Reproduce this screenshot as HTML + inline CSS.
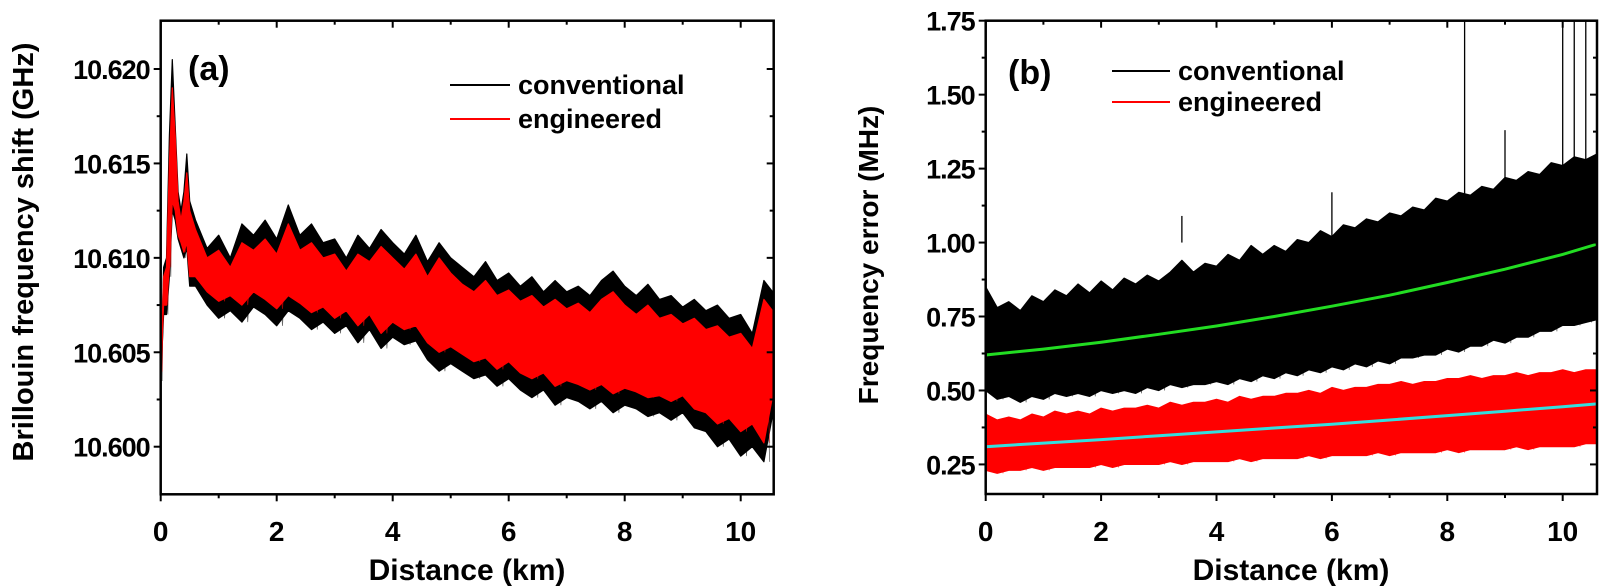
<!DOCTYPE html>
<html><head><meta charset="utf-8"><style>
html,body{margin:0;padding:0;background:#fff;}
svg{display:block;}
text{font-family:"Liberation Sans Narrow","Liberation Sans",sans-serif;font-weight:bold;fill:#000;}
</style></head><body>
<svg id="fig" width="1600" height="588" viewBox="0 0 1600 588"></svg>
<script>
// ---------- Panel (a) data ----------
const aPeakX = [0,0.05,0.1,0.15,0.2,0.25,0.3,0.35,0.4,0.45,0.5,0.6];
const aPeakBlackHi = [10.6035,10.6095,10.6100,10.6165,10.6205,10.6170,10.6135,10.6125,10.6135,10.6155,10.6130,10.6120];
const aPeakBlackLo = [10.6035,10.6070,10.6070,10.6090,10.6125,10.6120,10.6110,10.6105,10.6100,10.6105,10.6085,10.6085];
const aPeakRedHi = [10.6040,10.6090,10.6095,10.6150,10.6190,10.6165,10.6130,10.6120,10.6130,10.6145,10.6125,10.6115];
const aPeakRedLo = [10.6040,10.6075,10.6075,10.6095,10.6130,10.6125,10.6112,10.6108,10.6103,10.6108,10.6090,10.6090];
const aX = [0.8,1.0,1.2,1.4,1.6,1.8,2.0,2.2,2.4,2.6,2.8,3.0,3.2,3.4,3.6,3.8,4.0,4.2,4.4,4.6,4.8,5.0,5.2,5.4,5.6,5.8,6.0,6.2,6.4,6.6,6.8,7.0,7.2,7.4,7.6,7.8,8.0,8.2,8.4,8.6,8.8,9.0,9.2,9.4,9.6,9.8,10.0,10.2,10.4,10.6];
const aBlackHi = [10.6105,10.6112,10.6100,10.6118,10.6112,10.6120,10.6110,10.6128,10.6112,10.6118,10.6108,10.6110,10.6100,10.6112,10.6105,10.6115,10.6108,10.6102,10.6112,10.6098,10.6108,10.6100,10.6095,10.6090,10.6098,10.6088,10.6092,10.6085,10.6090,10.6082,10.6088,10.6082,10.6085,10.6080,10.6088,10.6093,10.6085,10.6080,10.6086,10.6078,10.6080,10.6074,10.6078,10.6072,10.6075,10.6068,10.6070,10.6060,10.6088,10.6080];
const aBlackLo = [10.6075,10.6068,10.6072,10.6066,10.6074,10.6070,10.6064,10.6072,10.6068,10.6062,10.6066,10.6060,10.6064,10.6055,10.6062,10.6052,10.6058,10.6054,10.6056,10.6046,10.6040,10.6044,10.6040,10.6036,10.6038,10.6032,10.6036,10.6030,10.6026,10.6030,10.6022,10.6026,10.6024,10.6020,10.6024,10.6018,10.6022,10.6020,10.6016,10.6018,10.6014,10.6018,10.6010,10.6008,10.6000,10.6004,10.5995,10.6000,10.5992,10.6025];
const aRedHi = [10.6100,10.6104,10.6095,10.6108,10.6104,10.6110,10.6102,10.6118,10.6104,10.6108,10.6100,10.6102,10.6093,10.6102,10.6098,10.6106,10.6100,10.6094,10.6102,10.6090,10.6100,10.6092,10.6086,10.6082,10.6088,10.6080,10.6083,10.6077,10.6080,10.6074,10.6078,10.6073,10.6076,10.6071,10.6078,10.6082,10.6075,10.6070,10.6075,10.6068,10.6070,10.6065,10.6068,10.6062,10.6064,10.6058,10.6060,10.6052,10.6078,10.6070];
const aRedLo = [10.6082,10.6077,10.6080,10.6075,10.6082,10.6078,10.6073,10.6080,10.6076,10.6071,10.6074,10.6068,10.6072,10.6064,10.6070,10.6060,10.6066,10.6062,10.6064,10.6055,10.6050,10.6053,10.6049,10.6045,10.6047,10.6041,10.6045,10.6039,10.6036,10.6039,10.6032,10.6035,10.6033,10.6030,10.6033,10.6028,10.6031,10.6029,10.6026,10.6027,10.6024,10.6027,10.6020,10.6018,10.6012,10.6015,10.6008,10.6012,10.6002,10.6035];
const aXTicks = [0,2,4,6,8,10];
const aYTicks = [10.600,10.605,10.610,10.615,10.620];
const aYLabels = ["10.600","10.605","10.610","10.615","10.620"];

// ---------- Panel (b) data ----------
const bX = [0,0.2,0.4,0.6,0.8,1.0,1.2,1.4,1.6,1.8,2.0,2.2,2.4,2.6,2.8,3.0,3.2,3.4,3.6,3.8,4.0,4.2,4.4,4.6,4.8,5.0,5.2,5.4,5.6,5.8,6.0,6.2,6.4,6.6,6.8,7.0,7.2,7.4,7.6,7.8,8.0,8.2,8.4,8.6,8.8,9.0,9.2,9.4,9.6,9.8,10.0,10.2,10.4,10.6];
const bConvHi = [0.85,0.78,0.80,0.77,0.82,0.80,0.84,0.82,0.86,0.83,0.87,0.84,0.88,0.86,0.89,0.87,0.90,0.94,0.90,0.93,0.92,0.96,0.94,0.99,0.96,0.99,0.97,1.01,1.00,1.04,1.02,1.06,1.05,1.08,1.07,1.10,1.09,1.12,1.11,1.15,1.14,1.17,1.16,1.19,1.18,1.22,1.21,1.24,1.23,1.27,1.26,1.29,1.28,1.30];
const bConvLo = [0.50,0.47,0.48,0.46,0.48,0.47,0.49,0.48,0.49,0.48,0.50,0.49,0.50,0.49,0.51,0.50,0.52,0.51,0.52,0.52,0.53,0.52,0.54,0.53,0.55,0.54,0.56,0.55,0.57,0.56,0.58,0.57,0.59,0.58,0.60,0.59,0.61,0.61,0.62,0.62,0.64,0.63,0.65,0.65,0.67,0.66,0.68,0.68,0.70,0.70,0.72,0.72,0.73,0.74];
const bEngHi = [0.42,0.40,0.41,0.40,0.42,0.41,0.43,0.42,0.43,0.42,0.44,0.43,0.44,0.44,0.45,0.44,0.46,0.45,0.46,0.46,0.47,0.46,0.48,0.47,0.48,0.48,0.49,0.49,0.50,0.49,0.51,0.50,0.51,0.51,0.52,0.52,0.53,0.52,0.53,0.53,0.54,0.54,0.55,0.54,0.55,0.55,0.56,0.55,0.56,0.56,0.57,0.56,0.57,0.57];
const bEngLo = [0.23,0.22,0.23,0.23,0.24,0.23,0.24,0.24,0.24,0.24,0.25,0.24,0.25,0.25,0.25,0.25,0.26,0.25,0.26,0.26,0.26,0.26,0.27,0.26,0.27,0.27,0.27,0.27,0.28,0.27,0.28,0.28,0.28,0.28,0.29,0.28,0.29,0.29,0.29,0.29,0.30,0.29,0.30,0.30,0.30,0.30,0.31,0.30,0.31,0.31,0.31,0.31,0.32,0.32];
const bSpikeX = [3.4,8.3,10.0,10.2,10.4,9.0,6.0];
const bSpikeY = [1.09,1.80,1.80,1.80,1.80,1.38,1.17];
const bFitX = [0,1,2,3,4,5,6,7,8,9,10,10.6];
const bFitConv = [0.620,0.640,0.663,0.690,0.718,0.750,0.785,0.822,0.865,0.910,0.960,0.995];
const bFitEng = [0.310,0.322,0.334,0.347,0.360,0.373,0.386,0.400,0.415,0.430,0.445,0.455];
const bXTicks = [0,2,4,6,8,10];
const bYTicks = [0.25,0.50,0.75,1.00,1.25,1.50,1.75];
const bYLabels = ["0.25","0.50","0.75","1.00","1.25","1.50","1.75"];

const NS = "http://www.w3.org/2000/svg";
const svg = document.getElementById('fig');
function mk(tag, attrs, parent) {
  const e = document.createElementNS(NS, tag);
  for (const k in attrs) e.setAttribute(k, attrs[k]);
  (parent || svg).appendChild(e);
  return e;
}
function scale(d0, d1, r0, r1) { return v => r0 + (v - d0) / (d1 - d0) * (r1 - r0); }

const aL = 160.7, aR = 773.7, aT = 20.7, aB = 494.3;
const axA = scale(0, (aR - aL) / 58, aL, aR);
const ayA = scale(10.600, 10.620, 446.7, 69);
const bL = 985.7, bR = 1597, bT = 20.7, bB = 494;
const axB = scale(0, (bR - bL) / 57.7, bL, bR);
const ayB = scale(0.15, 1.75, bB, bT);

function band(xs, hi, lo, sx, sy, color, name, parent) {
  let pts = [];
  for (let i = 0; i < xs.length; i++) pts.push(sx(xs[i]).toFixed(1) + ',' + sy(hi[i]).toFixed(1));
  for (let i = xs.length - 1; i >= 0; i--) pts.push(sx(xs[i]).toFixed(1) + ',' + sy(lo[i]).toFixed(1));
  const p = mk('polygon', {points: pts.join(' '), fill: color, stroke: color, 'stroke-width': 1.2, 'stroke-linejoin': 'round'}, parent);
  
  
  let z = [];
  for (let i = 0; i < xs.length - 1; i++) {
    const xm = (xs[i] + xs[i + 1]) / 2;
    z.push(sx(xs[i]).toFixed(1) + ',' + sy(hi[i]).toFixed(1));
    z.push(sx(xm).toFixed(1) + ',' + sy(lo[i]).toFixed(1));
  }
  const zl = mk('polyline', {points: z.join(' '), fill: 'none', stroke: color, 'stroke-width': 0.8, opacity: 0.6}, parent);
  
  
}
function line(xs, ys, sx, sy, color, w, name, parent) {
  const pts = xs.map((x, i) => sx(x).toFixed(1) + ',' + sy(ys[i]).toFixed(1)).join(' ');
  const l = mk('polyline', {points: pts, fill: 'none', stroke: color, 'stroke-width': w}, parent);
  
  
}

function frame(L, R, T, B, xTicks, yTicks, yLabels, sx, sy, yMinorStep, prefix) {
  const f = mk('rect', {x: L, y: T, width: R - L, height: B - T, fill: 'none', stroke: '#000', 'stroke-width': 2.5});
  
  
  for (let k = 0; k <= 10; k++) {
    const x = sx(k);
    if (x > R) continue;
    const len = k % 2 === 0 ? 7 : 4;
    mk('line', {x1: x, y1: B, x2: x, y2: B + len, stroke: '#000', 'stroke-width': 2});
    mk('line', {x1: x, y1: T, x2: x, y2: T + len, stroke: '#000', 'stroke-width': 2});
  }
  xTicks.forEach(v => {
    const t = mk('text', {x: sx(v), y: 541, 'text-anchor': 'middle', 'font-size': 28});
    t.textContent = v;
    
    
  });
  yTicks.forEach((v, i) => {
    const y = sy(v);
    mk('line', {x1: L - 7, y1: y, x2: L, y2: y, stroke: '#000', 'stroke-width': 2});
    mk('line', {x1: R - 7, y1: y, x2: R, y2: y, stroke: '#000', 'stroke-width': 2});
    const ym = sy(v + yMinorStep);
    if (ym > T + 2) {
      mk('line', {x1: L - 4, y1: ym, x2: L, y2: ym, stroke: '#000', 'stroke-width': 2});
      mk('line', {x1: R - 4, y1: ym, x2: R, y2: ym, stroke: '#000', 'stroke-width': 2});
    }
    const t = mk('text', {x: L - 11, y: y + 10, 'text-anchor': 'end', 'font-size': 27, 'letter-spacing': -1});
    t.textContent = yLabels[i];
    
    
  });
  const ym0 = sy(yTicks[0] - yMinorStep);
  if (ym0 < B - 2) {
    mk('line', {x1: L - 4, y1: ym0, x2: L, y2: ym0, stroke: '#000', 'stroke-width': 2});
    mk('line', {x1: R - 4, y1: ym0, x2: R, y2: ym0, stroke: '#000', 'stroke-width': 2});
  }
}

// Panel (a)
const clipA = mk('clipPath', {id: 'clipA'});
mk('rect', {x: aL, y: aT, width: aR - aL, height: aB - aT}, clipA);
const gA = mk('g', {'clip-path': 'url(#clipA)'});


band(aPeakX.concat(aX), aPeakBlackHi.concat(aBlackHi), aPeakBlackLo.concat(aBlackLo), axA, ayA, '#000', 'conventional-series-a', gA);
band(aPeakX.concat(aX), aPeakRedHi.concat(aRedHi), aPeakRedLo.concat(aRedLo), axA, ayA, '#ff0000', 'engineered-series-a', gA);
frame(aL, aR, aT, aB, aXTicks, aYTicks, aYLabels, axA, ayA, 0.0025, 'panel-a');

// Panel (b)
const clipB = mk('clipPath', {id: 'clipB'});
mk('rect', {x: bL, y: bT, width: bR - bL, height: bB - bT}, clipB);
const gB = mk('g', {'clip-path': 'url(#clipB)'});


band(bX, bConvHi, bConvLo, axB, ayB, '#000', 'conventional-series-b', gB);
bSpikeX.forEach((x, i) => {
  const s = mk('line', {x1: axB(x), y1: ayB(1.0), x2: axB(x), y2: ayB(bSpikeY[i]), stroke: '#000', 'stroke-width': 1.3}, gB);
  
  
});
band(bX, bEngHi, bEngLo, axB, ayB, '#ff0000', 'engineered-series-b', gB);
line(bFitX, bFitConv, axB, ayB, '#22dd22', 3, 'conventional-fit-line', gB);
line(bFitX, bFitEng, axB, ayB, '#33dddd', 3, 'engineered-fit-line', gB);
frame(bL, bR, bT, bB, bXTicks, bYTicks, bYLabels, axB, ayB, 0.125, 'panel-b');

function txt(x, y, s, size, name, extra) {
  const t = mk('text', Object.assign({x: x, y: y, 'font-size': size}, extra || {}));
  t.textContent = s;
  
  
  return t;
}
txt(467, 580, 'Distance (km)', 30, 'panel-a-x-axis-title', {'text-anchor': 'middle'});
txt(1291, 580, 'Distance (km)', 30, 'panel-b-x-axis-title', {'text-anchor': 'middle'});
txt(33, 252, 'Brillouin frequency shift (GHz)', 29, 'panel-a-y-axis-title', {'text-anchor': 'middle', transform: 'rotate(-90 33 252)'});
txt(878, 255, 'Frequency error (MHz)', 28, 'panel-b-y-axis-title', {'text-anchor': 'middle', transform: 'rotate(-90 878 255)'});
txt(188, 80, '(a)', 34, 'panel-a-label');
txt(1008, 84, '(b)', 34, 'panel-b-label');

function legend(x1, x2, y, color, label, name) {
  const g = mk('g', {});
  
  
  mk('line', {x1: x1, y1: y, x2: x2, y2: y, stroke: color, 'stroke-width': 2}, g);
  const t = mk('text', {x: x2 + 8, y: y + 9, 'font-size': 27}, g);
  t.textContent = label;
}
legend(450, 510, 85, '#000', 'conventional', 'legend-a-conventional');
legend(450, 510, 119, '#ff0000', 'engineered', 'legend-a-engineered');
legend(1112, 1170, 71, '#000', 'conventional', 'legend-b-conventional');
legend(1112, 1170, 102, '#ff0000', 'engineered', 'legend-b-engineered');
</script>
</body></html>
